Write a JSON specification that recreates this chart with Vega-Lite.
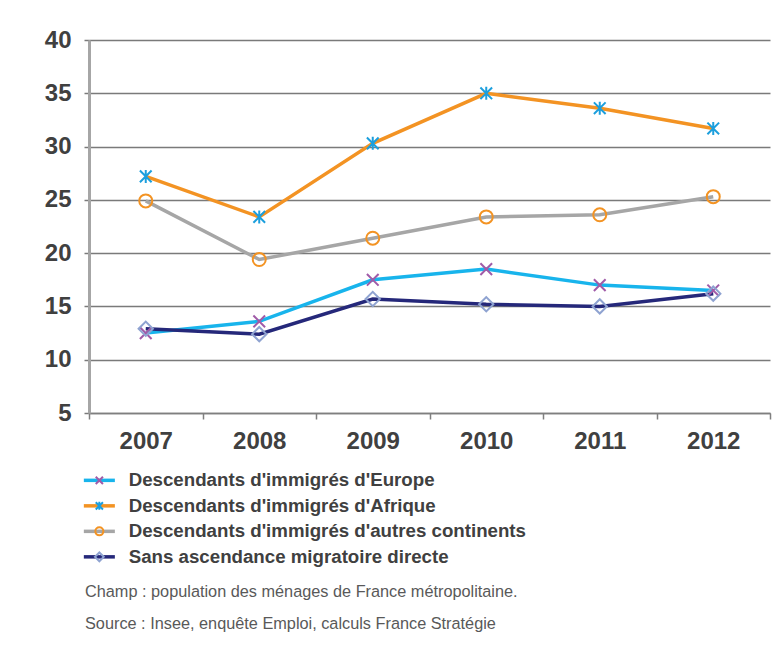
{
  "$schema": "https://vega.github.io/schema/vega-lite/v6.json",
  "width": 681,
  "height": 373,
  "autosize": {"type": "none"},
  "padding": {"left": 89, "top": 40, "right": 9, "bottom": 233},
  "background": "white",
  "config": {"font": "Liberation Sans", "view": {"stroke": null}},
  "data": {
    "values": [
      {"year": "2007", "serie": "Descendants d'immigrés d'Europe", "value": 12.5},
      {"year": "2008", "serie": "Descendants d'immigrés d'Europe", "value": 13.6},
      {"year": "2009", "serie": "Descendants d'immigrés d'Europe", "value": 17.5},
      {"year": "2010", "serie": "Descendants d'immigrés d'Europe", "value": 18.5},
      {"year": "2011", "serie": "Descendants d'immigrés d'Europe", "value": 17.0},
      {"year": "2012", "serie": "Descendants d'immigrés d'Europe", "value": 16.5},
      {"year": "2007", "serie": "Descendants d'immigrés d'Afrique", "value": 27.2},
      {"year": "2008", "serie": "Descendants d'immigrés d'Afrique", "value": 23.4},
      {"year": "2009", "serie": "Descendants d'immigrés d'Afrique", "value": 30.3},
      {"year": "2010", "serie": "Descendants d'immigrés d'Afrique", "value": 35.0},
      {"year": "2011", "serie": "Descendants d'immigrés d'Afrique", "value": 33.6},
      {"year": "2012", "serie": "Descendants d'immigrés d'Afrique", "value": 31.7},
      {"year": "2007", "serie": "Descendants d'immigrés d'autres continents", "value": 24.9},
      {"year": "2008", "serie": "Descendants d'immigrés d'autres continents", "value": 19.4},
      {"year": "2009", "serie": "Descendants d'immigrés d'autres continents", "value": 21.4},
      {"year": "2010", "serie": "Descendants d'immigrés d'autres continents", "value": 23.4},
      {"year": "2011", "serie": "Descendants d'immigrés d'autres continents", "value": 23.6},
      {"year": "2012", "serie": "Descendants d'immigrés d'autres continents", "value": 25.3},
      {"year": "2007", "serie": "Sans ascendance migratoire directe", "value": 12.9},
      {"year": "2008", "serie": "Sans ascendance migratoire directe", "value": 12.4},
      {"year": "2009", "serie": "Sans ascendance migratoire directe", "value": 15.7},
      {"year": "2010", "serie": "Sans ascendance migratoire directe", "value": 15.2},
      {"year": "2011", "serie": "Sans ascendance migratoire directe", "value": 15.0},
      {"year": "2012", "serie": "Sans ascendance migratoire directe", "value": 16.2}
    ]
  },
  "encoding": {
    "x": {
      "field": "year",
      "type": "ordinal",
      "scale": {"type": "band", "paddingInner": 0, "paddingOuter": 0},
      "axis": {
        "title": null,
        "labelAngle": 0,
        "labelFontSize": 24,
        "labelFontWeight": "bold",
        "labelColor": "#404040",
        "labelPadding": 10,
        "tickBand": "extent",
        "tickSize": 6,
        "tickColor": "#7f7f7f",
        "tickWidth": 1.5,
        "domainColor": "#7f7f7f",
        "domainWidth": 1.5,
        "grid": false
      }
    },
    "y": {
      "field": "value",
      "type": "quantitative",
      "scale": {"domain": [5, 40], "nice": false, "zero": false},
      "axis": {
        "title": null,
        "values": [5, 10, 15, 20, 25, 30, 35, 40],
        "labelFontSize": 24,
        "labelFontWeight": "bold",
        "labelColor": "#404040",
        "labelPadding": 13,
        "tickSize": 5,
        "tickColor": "#7a7a7a",
        "tickWidth": 1.5,
        "grid": true,
        "gridColor": "#7a7a7a",
        "gridWidth": 1.5,
        "domainColor": "#a6a6a6",
        "domainWidth": 3
      }
    }
  },
  "layer": [
    {
      "mark": {"type": "line", "strokeWidth": 3.5},
      "encoding": {
        "color": {
          "field": "serie",
          "type": "nominal",
          "scale": {
            "domain": ["Descendants d'immigrés d'Europe", "Descendants d'immigrés d'Afrique", "Descendants d'immigrés d'autres continents", "Sans ascendance migratoire directe"],
            "range": ["#18b4ec", "#f39323", "#a6a6a6", "#25287a"]
          },
          "legend": {
            "orient": "none",
            "legendX": 1,
            "legendY": 431,
            "title": null,
            "padding": 0,
            "symbolType": "M-3,0H3",
            "symbolSize": 107,
            "symbolStrokeWidth": 3.5,
            "labelFontSize": 18.7,
            "labelFontWeight": "bold",
            "labelColor": "#404040",
            "labelOffset": 20,
            "labelLimit": 700,
            "rowPadding": 5.5
          }
        }
      }
    },
    {
      "mark": {"type": "point", "filled": false, "strokeWidth": 2, "opacity": 1, "size": 169},
      "encoding": {
        "color": {
          "field": "serie",
          "type": "nominal",
          "scale": {
            "domain": ["Descendants d'immigrés d'Europe", "Descendants d'immigrés d'Afrique", "Descendants d'immigrés d'autres continents", "Sans ascendance migratoire directe"],
            "range": ["#a15ba8", "#1c9fdd", "#f39323", "#8fa3d1"]
          },
          "legend": {
            "orient": "none",
            "legendX": 1,
            "legendY": 431,
            "title": null,
            "padding": 0,
            "symbolSize": 64,
            "symbolStrokeWidth": 2,
            "labelFontSize": 18.7,
            "labelFontWeight": "bold",
            "labelColor": "transparent",
            "labelOffset": 20,
            "labelLimit": 700,
            "rowPadding": 5.5
          }
        },
        "shape": {
          "field": "serie",
          "type": "nominal",
          "scale": {
            "domain": ["Descendants d'immigrés d'Europe", "Descendants d'immigrés d'Afrique", "Descendants d'immigrés d'autres continents", "Sans ascendance migratoire directe"],
            "range": ["M-0.9,-0.9L0.9,0.9M-0.9,0.9L0.9,-0.9", "M-0.9,-0.9L0.9,0.9M-0.9,0.9L0.9,-0.9M0,-1L0,1", "circle", "M-1.1,0L0,-1.1L1.1,0L0,1.1Z"]
          },
          "legend": {
            "orient": "none",
            "legendX": 1,
            "legendY": 431,
            "title": null,
            "padding": 0,
            "symbolSize": 64,
            "symbolStrokeWidth": 2,
            "labelFontSize": 18.7,
            "labelFontWeight": "bold",
            "labelColor": "transparent",
            "labelOffset": 20,
            "labelLimit": 700,
            "rowPadding": 5.5
          }
        }
      },
      "resolve": {"legend": {"color": "shared", "shape": "shared"}}
    }
  ],
  "resolve": {
    "scale": {"color": "independent", "shape": "independent"},
    "legend": {"color": "independent", "shape": "independent"}
  },
  "title": {
    "text": ["Champ : population des ménages de France métropolitaine.", "Source : Insee, enquête Emploi, calculs France Stratégie"],
    "orient": "bottom",
    "anchor": "start",
    "frame": "group",
    "fontSize": 16.3,
    "fontWeight": "normal",
    "color": "#595959",
    "lineHeight": 31.5,
    "offset": 17,
    "dx": -4
  }
}
